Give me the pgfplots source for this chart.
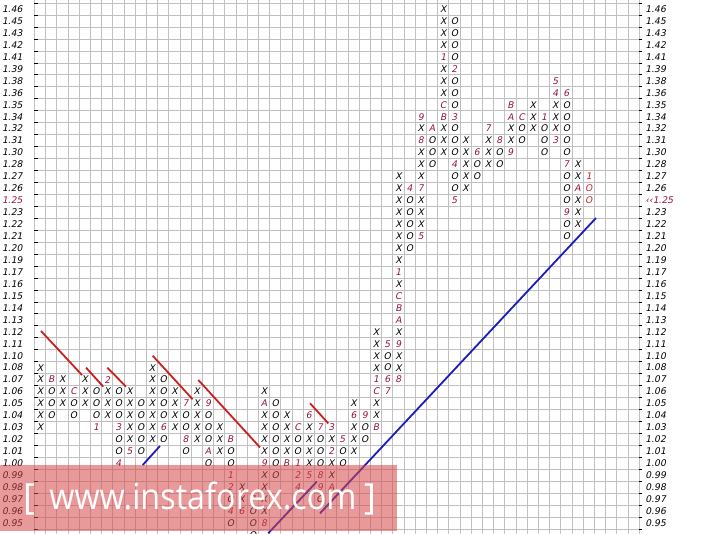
\documentclass[border=0pt]{standalone}
\usepackage{pgfplots}
\usepackage{pgfplotstable}
\pgfplotsset{compat=1.18}
\usepackage{fontspec}
\setmainfont{DejaVu Sans}
\newfontfamily\slfont{DejaVu Sans}[FakeSlant=0.2]
\newfontfamily\wmfont{Open Sans}
\definecolor{gridc}{RGB}{192,192,192}
\definecolor{mon}{RGB}{150,20,60}
\definecolor{cur}{RGB}{210,35,35}
\definecolor{rline}{RGB}{205,30,30}
\definecolor{bline}{RGB}{28,28,190}
\definecolor{wm}{RGB}{214,70,70}
\newcommand\pf{\slfont\fontsize{9.2bp}{10bp}\selectfont}

% x = column, y = box row (0 = 0.95)
\pgfplotstableread{
x y s
0 8 X
0 9 X
0 10 X
0 11 X
0 12 X
0 13 X
1 9 O
1 10 O
1 11 O
2 10 X
2 11 X
2 12 X
3 9 O
3 10 O
4 10 X
4 11 X
4 12 X
5 9 O
5 10 O
5 11 O
6 9 X
6 10 X
6 11 X
7 6 O
7 7 O
7 9 O
7 10 O
7 11 O
8 7 X
8 8 X
8 9 X
8 10 X
8 11 X
9 6 O
9 7 O
9 8 O
9 9 O
9 10 O
10 7 X
10 8 X
10 9 X
10 10 X
10 11 X
10 12 X
10 13 X
11 7 O
11 9 O
11 10 O
11 11 O
11 12 O
12 8 X
12 9 X
12 10 X
12 11 X
13 6 O
13 8 O
13 9 O
14 7 X
14 8 X
14 9 X
14 10 X
14 11 X
15 5 O
15 7 O
15 8 O
15 9 O
16 6 X
16 7 X
16 8 X
17 0 O
17 2 O
17 5 O
17 6 O
18 2 X
18 3 X
19 -1 O
19 0 O
19 1 O
20 1 X
20 2 X
20 3 X
20 4 X
20 6 X
20 7 X
20 8 X
20 9 X
20 11 X
21 4 O
21 5 O
21 6 O
21 7 O
21 8 O
21 9 O
21 10 O
22 6 X
22 7 X
22 8 X
22 9 X
23 6 O
23 7 O
24 5 X
24 6 X
24 7 X
24 8 X
25 2 O
25 5 O
25 6 O
25 7 O
26 4 X
26 5 X
26 7 X
27 5 O
27 6 O
28 6 X
28 7 X
28 8 X
28 10 X
29 7 O
29 8 O
30 9 X
30 10 X
30 13 X
30 14 X
30 15 X
30 16 X
31 13 O
31 14 O
32 13 X
32 14 X
32 16 X
32 20 X
32 22 X
32 23 X
32 24 X
32 25 X
32 26 X
32 27 X
32 28 X
32 29 X
33 23 O
33 24 O
33 25 O
33 26 O
33 27 O
34 25 X
34 26 X
34 27 X
34 29 X
34 30 X
34 31 X
34 33 X
35 30 O
35 31 O
35 32 O
36 31 X
36 32 X
36 33 X
36 36 X
36 37 X
36 38 X
36 40 X
36 41 X
36 42 X
36 43 X
37 28 O
37 29 O
37 31 O
37 32 O
37 33 O
37 35 O
37 36 O
37 37 O
37 39 O
37 40 O
37 41 O
37 42 O
38 28 X
38 29 X
38 30 X
38 31 X
38 32 X
39 29 O
39 30 O
40 30 X
40 31 X
40 32 X
41 30 O
41 31 O
42 32 X
42 33 X
43 32 O
43 33 O
44 33 X
44 34 X
44 35 X
45 31 O
45 32 O
45 33 O
46 33 X
46 34 X
46 35 X
47 24 O
47 25 O
47 27 O
47 28 O
47 29 O
47 31 O
47 32 O
47 33 O
47 34 O
47 35 O
48 25 X
48 26 X
48 27 X
48 29 X
48 30 X
}\xo

% month marks
\pgfplotstableread{
x y s
1 12 B
3 11 C
5 8 1
6 12 2
7 8 3
7 5 4
8 6 5
11 8 6
13 10 7
13 7 8
15 10 9
15 6 A
17 7 B
17 4 1
17 3 2
17 1 4
18 1 6
19 2 7
20 0 8
20 5 9
20 10 A
22 5 B
23 8 C
23 5 1
23 4 2
23 3 4
24 4 5
24 9 6
25 8 7
25 4 8
25 3 9
26 3 A
26 6 2
26 8 3
27 7 5
28 9 6
29 9 9
30 8 B
30 11 C
30 12 1
31 15 5
31 12 6
31 11 7
32 12 8
32 15 9
32 17 A
32 18 B
32 19 C
32 21 1
33 28 4
34 24 5
34 28 7
34 32 8
34 34 9
35 33 A
36 34 B
36 35 C
36 39 1
37 38 2
37 34 3
37 30 4
37 27 5
39 31 6
40 33 7
41 32 8
42 31 9
42 34 A
42 35 B
43 34 C
45 34 1
46 32 3
46 36 4
46 37 5
47 36 6
47 30 7
47 26 9
48 28 A
}\months

% current column
\pgfplotstableread{
x y s
49 27 O
49 28 O
49 29 1
}\cur

\begin{document}
\begin{tikzpicture}
\begin{axis}[
  x=11.2bp, y=11.95bp,
  xmin=-0.5, xmax=53.5, ymin=-0.9205, ymax=43.766,
  clip=false,
  axis line style={draw=none},
  xtick={-0.5,0.5,...,53.5}, xticklabels={},
  ytick={-0.5,0.5,...,43.5}, yticklabels={},
  grid=major,
  major grid style={gridc, line width=0.8bp},
  x tick style={draw=none},
  y tick style={black, line width=0.8bp},
  major tick length=4bp, tick align=inside,
  ytick pos=left, xtick pos=bottom,
  extra y ticks={0,...,44},
  extra y tick labels={0.95,0.96,0.97,0.98,0.99,1.00,1.01,1.02,1.03,1.04,1.05,1.06,1.07,1.08,1.10,1.11,1.12,1.13,1.14,1.15,1.16,1.17,1.19,1.20,1.21,1.22,1.23,{\textcolor{mon}{1.25}},1.26,1.27,1.28,1.30,1.31,1.32,1.34,1.35,1.36,1.38,1.39,1.41,1.42,1.43,1.45,1.46,1.47},
  extra y tick style={grid=none, tick style={draw=none}},
  yticklabel style={font=\pf, anchor=west, inner sep=0pt, xshift=-32.5bp},
  nodes near coords style={anchor=center, inner sep=0pt, font=\pf},
]
\addplot[only marks, mark=none, point meta=explicit symbolic, nodes near coords,
  nodes near coords style={text=black}] table[x=x, y=y, meta=s] {\xo};
\addplot[only marks, mark=none, point meta=explicit symbolic, nodes near coords,
  nodes near coords style={text=mon}] table[x=x, y=y, meta=s] {\months};
\addplot[only marks, mark=none, point meta=explicit symbolic, nodes near coords,
  nodes near coords style={text=cur}] table[x=x, y=y, meta=s] {\cur};

% resistance lines
\addplot[rline, line width=1.8bp] coordinates {(0.09,16.07) (3.75,12.38)};
\addplot[rline, line width=1.8bp] coordinates {(4.11,13.0) (5.65,11.41)};
\addplot[rline, line width=1.8bp] coordinates {(6.01,13.0) (7.68,11.41)};
\addplot[rline, line width=1.8bp] coordinates {(10.06,14.0) (13.63,10.35)};
\addplot[rline, line width=1.8bp] coordinates {(14.13,11.97) (19.64,6.33)};
\addplot[rline, line width=1.8bp] coordinates {(24.11,10.02) (25.74,8.34)};
% support lines
\addplot[bline, line width=1.8bp] coordinates {(9.17,4.85) (10.71,6.44)};
\addplot[bline, line width=1.8bp] coordinates {(20.38,-0.86) (24.71,3.46)};
\addplot[bline, line width=1.8bp] coordinates {(25.0,0.81) (49.64,25.52)};

\coordinate (bl) at (axis cs:-3.5714,-0.9205);
\coordinate (tr) at (axis cs:59.107,43.766);
\coordinate (w1) at (axis cs:-3.5714,-0.67);
\coordinate (w2) at (axis cs:31.875,4.85);
\coordinate (wt) at (axis cs:14.55,1.09);
\coordinate (wl) at (axis cs:-0.98,1.09);
\coordinate (wr) at (axis cs:29.46,1.09);
\end{axis}

\begin{axis}[
  x=11.2bp, y=11.95bp,
  xmin=-0.5, xmax=53.5, ymin=-0.9205, ymax=43.766,
  hide x axis, axis y line*=right,
  axis line style={draw=none},
  ytick={-0.5,0.5,...,43.5}, yticklabels={},
  y tick style={black, line width=0.8bp},
  major tick length=3bp, tick align=outside,
  extra y ticks={0,...,44},
  extra y tick labels={0.95,0.96,0.97,0.98,0.99,1.00,1.01,1.02,1.03,1.04,1.05,1.06,1.07,1.08,1.10,1.11,1.12,1.13,1.14,1.15,1.16,1.17,1.19,1.20,1.21,1.22,1.23,{\textcolor{mon}{‹‹1.25}},1.26,1.27,1.28,1.30,1.31,1.32,1.34,1.35,1.36,1.38,1.39,1.41,1.42,1.43,1.45,1.46,1.47},
  extra y tick style={tick style={draw=none}},
  yticklabel style={font=\pf, anchor=west, inner sep=0pt, xshift=3bp},
]
\end{axis}

\fill[wm, opacity=0.55] (w1) rectangle (w2);
\node[anchor=base, text=white, font=\wmfont\fontsize{36bp}{40bp}\selectfont, xscale=0.9, transform shape, inner sep=0pt] at (wt) {www.instaforex.com};
\node[anchor=base, text=white, font=\wmfont\fontsize{36bp}{40bp}\selectfont, inner sep=0pt] at (wl) {[};
\node[anchor=base, text=white, font=\wmfont\fontsize{36bp}{40bp}\selectfont, inner sep=0pt] at (wr) {]};

\pgfresetboundingbox
\path[use as bounding box] (bl) rectangle (tr);
\end{tikzpicture}
\end{document}
